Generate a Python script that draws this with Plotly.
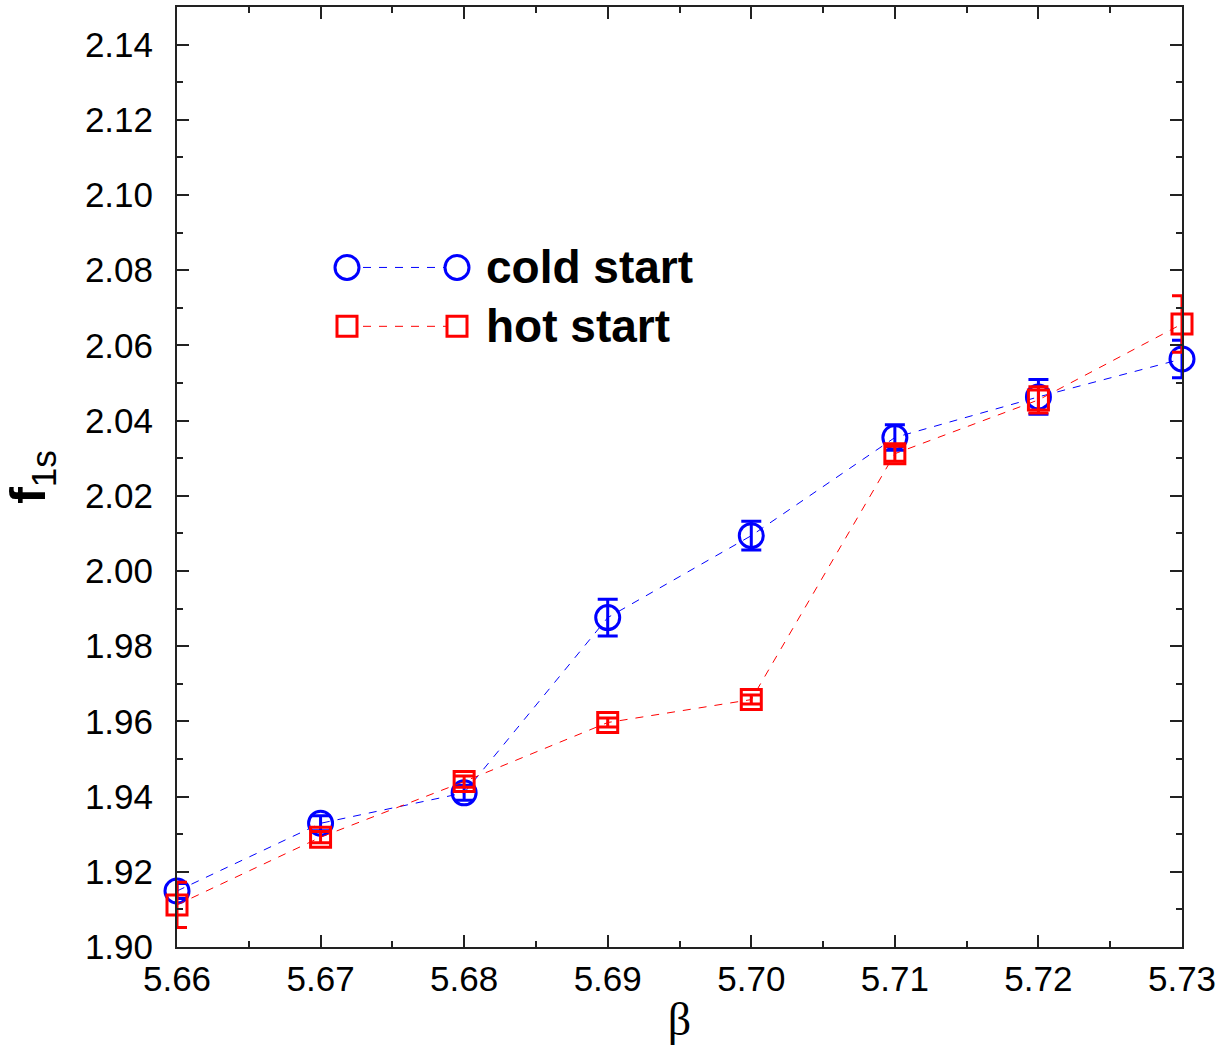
import plotly.graph_objects as go

beta = [5.66, 5.67, 5.68, 5.69, 5.70, 5.71, 5.72, 5.73]
cold_f = [1.9149, 1.9329, 1.9410, 1.9876, 2.0094, 2.0355, 2.0463, 2.0564]
cold_err = [0.0020, 0.0020, 0.0020, 0.0049, 0.0038, 0.0034, 0.0046, 0.0050]
hot_f = [1.9112, 1.9292, 1.9440, 1.9597, 1.9658, 2.0312, 2.0455, 2.0657]
hot_err = [0.0060, 0.0015, 0.0015, 0.0012, 0.0012, 0.0020, 0.0035, 0.0075]

BLUE = "#0000ff"
RED = "#ff0000"
FONT = "Arial, Liberation Sans, sans-serif"

fig = go.Figure()
fig.add_trace(go.Scatter(
    x=beta, y=cold_f, mode="lines+markers", name="cold start",
    line=dict(color=BLUE, width=1, dash="8px,8px"),
    marker=dict(symbol="circle-open", size=24, color=BLUE, line=dict(width=3, color=BLUE)),
    error_y=dict(type="data", array=cold_err, visible=True, color=BLUE, thickness=3, width=10),
    cliponaxis=False,
))
fig.add_trace(go.Scatter(
    x=beta, y=hot_f, mode="lines+markers", name="hot start",
    line=dict(color=RED, width=1, dash="8px,8px"),
    marker=dict(symbol="square-open", size=20, color=RED, line=dict(width=3, color=RED)),
    error_y=dict(type="data", array=hot_err, visible=True, color=RED, thickness=3, width=10),
    cliponaxis=False,
))

# manual legend (marker - dashed line - marker, then bold label)
L, R, B, T = 177, 1182, 947, 5
W, H = R - L, B - T
def px(x): return (x - L) / W
def py(y): return (B - y) / H

shapes = []
annotations = []
legend_items = [("cold start", BLUE, "circle", 266), ("hot start", RED, "rect", 325)]
for label, col, kind, yy in legend_items:
    shapes.append(dict(type="line", xref="paper", yref="paper",
                       x0=px(347), x1=px(457), y0=py(yy), y1=py(yy),
                       line=dict(color=col, width=1, dash="8px,8px")))
    half = 12 if kind == "circle" else 10
    for xx in (347, 457):
        shapes.append(dict(type=kind, xref="paper", yref="paper",
                           xsizemode="pixel", ysizemode="pixel",
                           xanchor=px(xx), yanchor=py(yy),
                           x0=-half, x1=half, y0=-half, y1=half,
                           fillcolor="white",
                           line=dict(color=col, width=3)))
    annotations.append(dict(text="<b>%s</b>" % label, xref="paper", yref="paper",
                            x=px(484), y=py(yy), xanchor="left", yanchor="middle",
                            showarrow=False, font=dict(family=FONT, size=46, color="black")))

axis_common = dict(
    showgrid=False, zeroline=False, showline=True, linecolor="#222", linewidth=2,
    mirror="allticks", ticks="inside", ticklen=12, tickwidth=1.5, tickcolor="#222",
    tickfont=dict(family=FONT, size=35, color="black"),
)

fig.update_layout(
    width=1225, height=1053,
    margin=dict(l=L, r=1225 - R, t=T, b=1053 - B),
    paper_bgcolor="white", plot_bgcolor="white",
    showlegend=False,
    shapes=shapes, annotations=annotations,
    xaxis=dict(range=[5.66, 5.73], tickvals=beta, ticktext=["%.2f" % b for b in beta],
               minor=dict(dtick=0.005, ticks="inside", ticklen=6, tickwidth=1.5, tickcolor="#222"),
               ticklabelstandoff=0,
               title=dict(text="β", font=dict(family="Liberation Serif, Times New Roman, serif", size=46, color="black"),
                          standoff=6),
               **axis_common),
    yaxis=dict(range=[1.90, 2.15], dtick=0.02, tick0=1.90, tickformat=".2f",
               minor=dict(dtick=0.01, ticks="inside", ticklen=6, tickwidth=1.5, tickcolor="#222"),
               ticklabelstandoff=15,
               title=dict(text="<b>f</b><sub>1s</sub>", font=dict(family=FONT, size=50, color="black"),
                          standoff=40),
               **axis_common),
)

fig.write_html("out.html", config={"displayModeBar": False},
               post_script="document.body.style.margin='0px';")
